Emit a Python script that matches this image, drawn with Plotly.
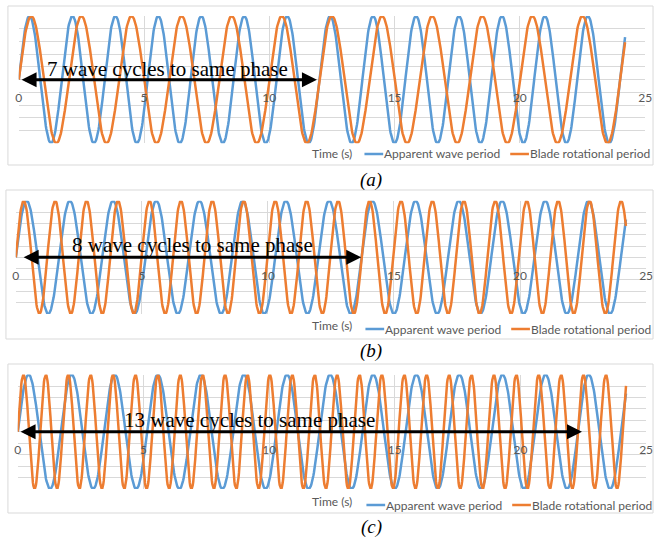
import numpy as np
import plotly.graph_objects as go

W, H = 662, 542

# ---------------- data ----------------
time_end = 24.2                       # s, last sample shown
time_step = 0.02                      # s
apparent_wave_period = [1.7143, 1.7143, 1.7143]     # s, panels a, b, c
blade_rotational_period = [2.0, 1.247, 0.8914]      # s, panels a, b, c
cycles_to_same_phase = [7, 8, 13]
arrow_start_time = [0.05, 0.25, 0.05]
arrow_end_time = [11.9, 13.7, 22.45]
label_time = [5.92, 7.0, 9.2]
label_level = [0.17, 0.21, 0.21]
x_ticks = [0, 5, 10, 15, 20, 25]
panel_labels = ["(a)", "(b)", "(c)"]
series_names = ["Apparent wave period", "Blade rotational period"]
series_colors = ["#5B9BD5", "#ED7D31"]

# ---------------- layout geometry (pixels) ----------------
plot_boxes = [(16, 652, 16, 143.3), (13, 653, 200.7, 314), (15, 653, 374.5, 489)]
frames = [(5, 660, 6, 165), (3, 660, 190, 339), (5, 660, 364, 513)]
legend_y = [154, 329, 505]
title_y = [154, 325, 501]
legend_x0 = [367, 368, 369]
caption_y = [180, 351, 527]


def fx(px):
    return px / W


def fy(py):
    return 1 - py / H


t = np.arange(0, time_end + 1e-9, time_step)

fig = go.Figure()
shapes = []
annotations = []
grid_col = "#D9D9D9"
tick_col = "#595959"
ui_font = "Lato"

for i in range(3):
    xa = "x" if i == 0 else f"x{i+1}"
    ya = "y" if i == 0 else f"y{i+1}"
    xkey = "xaxis" if i == 0 else f"xaxis{i+1}"
    ykey = "yaxis" if i == 0 else f"yaxis{i+1}"
    periods = [apparent_wave_period[i], blade_rotational_period[i]]
    for name, per, col in zip(series_names, periods, series_colors):
        fig.add_trace(go.Scatter(
            x=t, y=np.sin(2 * np.pi * t / per), mode="lines", name=name,
            line=dict(color=col, width=2.5), xaxis=xa, yaxis=ya, showlegend=False,
            hoverinfo="skip"))

    x0, x1, y0, y1 = plot_boxes[i]
    ymid = (y0 + y1) / 2
    fig.update_layout(**{
        xkey: dict(domain=[fx(x0), fx(x1)], range=[-0.001, 25.001], anchor="free",
                   position=fy(ymid), tickvals=x_ticks, ticktext=[str(v) for v in x_ticks],
                   showgrid=True, gridcolor=grid_col, gridwidth=1, zeroline=False,
                   showline=False, ticks="outside", ticklen=7,
                   tickcolor="rgba(0,0,0,0)",
                   tickfont=dict(family=ui_font, size=12, color=tick_col)),
        ykey: dict(domain=[fy(y1), fy(y0)], range=[-1.001, 1.001], anchor=xa,
                   tick0=-1, dtick=0.2, showticklabels=False, showgrid=True,
                   gridcolor=grid_col, gridwidth=1, zeroline=True,
                   zerolinecolor=grid_col, zerolinewidth=1, showline=False, ticks=""),
    })

    # chart frame
    fx0, fx1, fy0, fy1 = frames[i]
    shapes.append(dict(type="rect", xref="paper", yref="paper", x0=fx(fx0), x1=fx(fx1),
                       y0=fy(fy1), y1=fy(fy0), line=dict(color=grid_col, width=1),
                       layer="below"))

    # double-headed arrow
    annotations.append(dict(x=arrow_end_time[i], y=0, ax=arrow_start_time[i], ay=0,
                            xref=xa, yref=ya, axref=xa, ayref=ya, text="",
                            showarrow=True, arrowhead=2, startarrowhead=2,
                            arrowside="end+start", arrowsize=1, startarrowsize=1,
                            arrowwidth=3, arrowcolor="black"))
    annotations.append(dict(x=label_time[i], y=label_level[i], xref=xa, yref=ya,
                            text=f"{cycles_to_same_phase[i]} wave cycles to same phase",
                            showarrow=False, xanchor="center", yanchor="middle",
                            font=dict(family="Liberation Serif", size=21, color="black")))

    # axis title
    annotations.append(dict(x=fx(334), y=fy(title_y[i]), xref="paper", yref="paper",
                            text="Time (s)", showarrow=False, xanchor="center",
                            yanchor="middle",
                            font=dict(family=ui_font, size=12, color=tick_col)))

    # legend
    lx = legend_x0[i]
    ly = legend_y[i]
    for k, (name, col) in enumerate(zip(series_names, series_colors)):
        sx = lx + k * 148
        shapes.append(dict(type="line", xref="paper", yref="paper", x0=fx(sx),
                           x1=fx(sx + 19), y0=fy(ly), y1=fy(ly),
                           line=dict(color=col, width=2.5)))
        annotations.append(dict(x=fx(sx + 19), y=fy(ly), xref="paper", yref="paper",
                                text=name, showarrow=False, xanchor="left",
                                yanchor="middle", xshift=-1,
                                font=dict(family=ui_font, size=12, color=tick_col)))

    # caption
    annotations.append(dict(x=fx(374), y=fy(caption_y[i]), xref="paper", yref="paper",
                            text=f"<i>{panel_labels[i]}</i>", showarrow=False,
                            xanchor="center", yanchor="middle",
                            font=dict(family="Liberation Serif", size=19, color="black")))

fig.update_layout(width=W, height=H, margin=dict(l=0, r=0, t=0, b=0),
                  paper_bgcolor="white", plot_bgcolor="white",
                  shapes=shapes, annotations=annotations, showlegend=False)

fig.write_html("out.html", config={"displayModeBar": False},
               post_script="document.body.style.margin='0';document.body.style.overflow='hidden';")
